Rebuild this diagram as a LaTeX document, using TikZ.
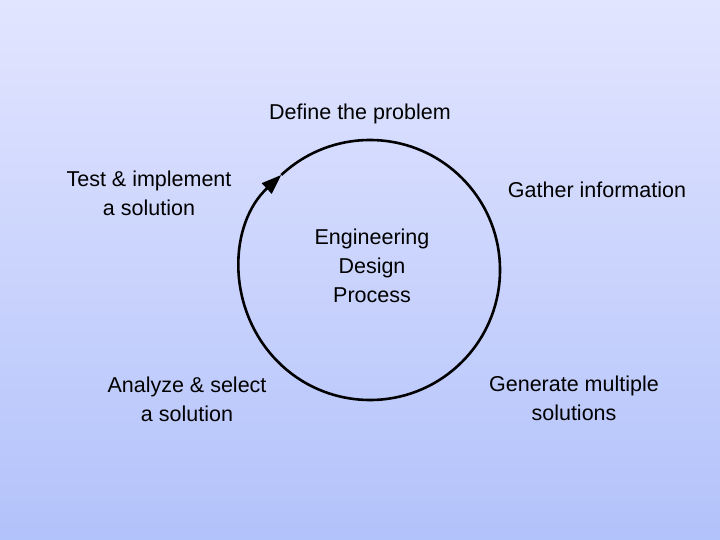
\documentclass[tikz,border=0pt]{standalone}
\usepackage{fontspec}
\setmainfont{Liberation Sans}
\usetikzlibrary{arrows.meta,calc}
\definecolor{topc}{RGB}{226,229,255}
\definecolor{botc}{RGB}{178,194,250}
\begin{document}
\begin{tikzpicture}[x=1pt,y=-1pt,
  lbl/.style={align=center,font=\fontsize{21.5}{29}\selectfont,inner sep=0}]
\shade[top color=topc,bottom color=botc] (0,0) rectangle (720,540);
\useasboundingbox (0,0) rectangle (720,540);
\coordinate (c) at (370,270);
\draw[line width=2.6pt,-{Triangle[length=20pt,width=14pt]}] ($(c)+(-133:130)$) arc[start angle=-133,end angle=227,radius=130];
\node[lbl] (d) at (360,114) {Define the problem};
\node[lbl] (g) at (597,190) {Gather information};
\node[lbl] (t) at (149,193) {Test \& implement\\a solution};
\node[lbl] (e) at (372,266) {Engineering\\Design\\Process};
\node[lbl] (a) at (187,399) {Analyze \& select\\a solution};
\node[lbl] (m) at (574,398) {Generate multiple\\solutions};
\end{tikzpicture}
\end{document}
